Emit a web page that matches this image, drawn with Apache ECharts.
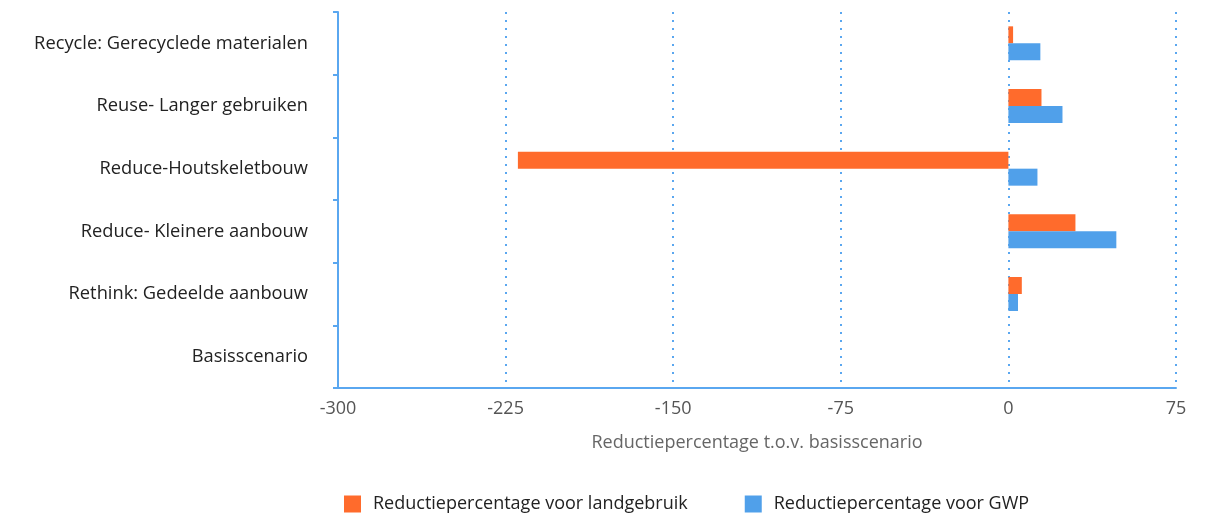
<!DOCTYPE html>
<html>
<head>
<meta charset="utf-8">
<script src="https://cdn.jsdelivr.net/npm/echarts@6/dist/echarts.min.js"></script>
<style>html,body{margin:0;padding:0;background:#fff}#c{width:1214px;height:515px}</style>
</head>
<body>
<div id="c"></div>
<script>
const categories = ['Basisscenario','Rethink: Gedeelde aanbouw','Reduce- Kleinere aanbouw','Reduce-Houtskeletbouw','Reuse- Langer gebruiken','Recycle: Gerecyclede materialen'];
const landgebruik = [0, 6, 30, -219.5, 14.8, 2.1];
const gwp = [0, 4.3, 48.3, 13, 24.2, 14.3];
const xTicks = [-300, -225, -150, -75, 0, 75];
const seriesNames = ['Reductiepercentage voor landgebruik', 'Reductiepercentage voor GWP'];

const chart = echarts.init(document.getElementById('c'));
chart.setOption({
  animation: false,
  textStyle: { fontFamily: 'Open Sans' },
  grid: { left: 338, right: 38, top: 12, bottom: 127 },
  legend: {
    top: 490, left: 339, itemWidth: 17, itemHeight: 17, itemGap: 57,
    icon: 'rect',
    textStyle: { fontSize: 18, color: '#222', fontFamily: 'Open Sans', padding: [0, 0, 0, 7] },
    data: seriesNames
  },
  xAxis: {
    type: 'value', min: xTicks[0], max: xTicks[xTicks.length - 1], interval: 75,
    name: 'Reductiepercentage t.o.v. basisscenario', nameLocation: 'middle', nameGap: 46,
    nameTextStyle: { fontSize: 18, color: '#666' },
    axisLine: { show: true, onZero: false, lineStyle: { color: '#5aa7f0', width: 2 } },
    axisTick: { show: false },
    axisLabel: { fontSize: 18, color: '#555', margin: 12 },
    splitLine: { show: true, lineStyle: { color: '#5aa7f0', type: [2, 6], width: 2 } }
  },
  yAxis: {
    type: 'category', data: categories,
    axisLine: { show: true, onZero: false, lineStyle: { color: '#5aa7f0', width: 2 } },
    axisTick: { show: true, length: 5, lineStyle: { color: '#5aa7f0', width: 2 } },
    axisLabel: { fontSize: 18.3, color: '#222', margin: 30 },
    splitLine: { show: false }
  },
  series: [
    { name: seriesNames[0], type: 'bar', data: landgebruik, barWidth: 17, barGap: '0%', itemStyle: { color: '#ff6b2c' } },
    { name: seriesNames[1], type: 'bar', data: gwp, barWidth: 17, barGap: '0%', itemStyle: { color: '#50a0ea' } }
  ]
});
</script>
</body>
</html>
